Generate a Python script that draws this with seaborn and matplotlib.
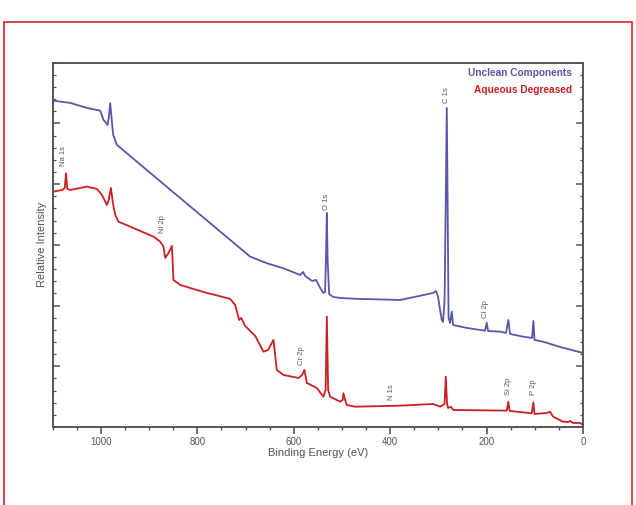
import matplotlib
matplotlib.use("Agg")
import matplotlib.pyplot as plt
from matplotlib.patches import Rectangle
from matplotlib.ticker import MultipleLocator
import seaborn as sns
import pandas as pd

# ---- data (binding energy eV, relative intensity) ----
unclean_energy = [1100, 1063.7, 1029, 1001.5, 994.6, 986.3, 983.8, 980.7, 977.6, 974.5,
                  966.8, 925.4, 856.3, 752.6, 690.5, 655.8, 621.4, 586.8, 580.6, 576.4,
                  561.9, 553.6, 545.3, 538.5, 535, 532.9, 531.4, 529.8, 526.6, 518.4,
                  503.8, 462.4, 379.4, 311, 304.8, 300.6, 296.5, 293, 290.3, 287.2,
                  284.7, 282.6, 280.9, 278.9, 275.8, 272.2, 269.5, 241.1, 203.2, 199.7,
                  197, 172.1, 159.7, 154.9, 151.4, 124.4, 105.7, 103, 100.6, 82.9,
                  47.7, 0]
unclean_intensity = [5.376, 5.338, 5.255, 5.211, 5.058, 4.975, 5.09, 5.333, 5.058, 4.81,
                     4.646, 4.37, 3.909, 3.219, 2.806, 2.697, 2.614, 2.504, 2.553, 2.488,
                     2.405, 2.422, 2.29, 2.207, 2.224, 2.916, 3.525, 2.751, 2.19, 2.142,
                     2.125, 2.109, 2.092, 2.207, 2.24, 2.142, 1.927, 1.763, 1.73, 2.092,
                     3.74, 5.255, 3.74, 1.796, 1.713, 1.9, 1.68, 1.631, 1.586, 1.718,
                     1.581, 1.57, 1.549, 1.763, 1.532, 1.488, 1.466, 1.746, 1.433, 1.405,
                     1.318, 1.219]

degreased_energy = [1100, 1080.2, 1075, 1072.5, 1069.8, 1063.7, 1029, 1008.3, 997.9, 987.6,
                    983.8, 979.3, 974.5, 970.3, 963.5, 939.3, 890.9, 877, 870.2, 866.7,
                    859.8, 852.8, 849.5, 835.6, 780.2, 763, 732, 721.5, 713.3, 709.1,
                    700.8, 680, 662.9, 653.1, 642.1, 635.1, 621.4, 590.3, 582.6, 577.9,
                    572.9, 552.2, 538.5, 533.9, 531.4, 528.7, 524.6, 503.8, 498.6, 497,
                    493.5, 489.9, 472.7, 379.4, 311, 296.5, 287.2, 284.7, 282, 279.9,
                    274.3, 269.5, 158.2, 154.9, 152.4, 106.4, 103, 100.6, 74.6, 68.4,
                    62.2, 41.5, 31.1, 27, 20.7, 6.2, 0]
degreased_intensity = [3.876, 3.904, 3.937, 4.179, 3.921, 3.904, 3.959, 3.921, 3.822, 3.657,
                       3.74, 3.937, 3.657, 3.493, 3.382, 3.3, 3.135, 3.053, 2.97, 2.784,
                       2.866, 2.982, 2.422, 2.339, 2.207, 2.175, 2.109, 2.01, 1.763, 1.796,
                       1.664, 1.5, 1.24, 1.269, 1.433, 0.939, 0.857, 0.807, 0.857, 0.939,
                       0.725, 0.642, 0.499, 0.61, 1.817, 0.61, 0.499, 0.417, 0.445, 0.555,
                       0.445, 0.362, 0.334, 0.351, 0.379, 0.334, 0.379, 0.829, 0.379, 0.313,
                       0.334, 0.28, 0.269, 0.417, 0.264, 0.226, 0.407, 0.214, 0.231, 0.252,
                       0.17, 0.087, 0.082, 0.099, 0.066, 0.066, 0.033]

series_names = ["Unclean Components", "Aqueous Degreased"]
series_colors = ["#5858aa", "#cc1f26"]

peak_labels = ["Na 1s", "Ni 2p", "O 1s", "C 1s", "Cl 2p", "Cr 2p", "N 1s", "Si 2p", "P 2p"]
peak_energy = [1078, 873, 533, 284, 203, 583, 397, 155, 103]
peak_label_base = [4.30, 3.20, 3.57, 5.34, 1.80, 1.02, 0.45, 0.53, 0.53]

x_ticks = [1000, 800, 600, 400, 200, 0]

# ---- build table ----
df = pd.concat([
    pd.DataFrame({"energy": unclean_energy, "intensity": unclean_intensity, "series": series_names[0]}),
    pd.DataFrame({"energy": degreased_energy, "intensity": degreased_intensity, "series": series_names[1]}),
], ignore_index=True)

sns.set_style("white")
plt.rcParams["font.family"] = ["Liberation Sans", "DejaVu Sans"]

fig = plt.figure(figsize=(6.36, 5.05), dpi=100)
ax = fig.add_axes([0.0829, 0.1545, 0.9167 - 0.0829, 0.8758 - 0.1545])

sns.lineplot(data=df, x="energy", y="intensity", hue="series", hue_order=series_names,
             palette=series_colors, estimator=None, sort=False, linewidth=1.3,
             legend=False, ax=ax)

ax.set_xlim(1100, 0)
ax.set_ylim(0, 6)
ax.xaxis.set_major_locator(MultipleLocator(200))
ax.xaxis.set_minor_locator(MultipleLocator(50))
ax.set_xticks(x_ticks)
ax.set_xticklabels([str(t) for t in x_ticks])
ax.yaxis.set_major_locator(MultipleLocator(1))
ax.yaxis.set_minor_locator(MultipleLocator(0.2))
ax.set_yticklabels([])

for s in ax.spines.values():
    s.set_color("#555555")
    s.set_linewidth(1.4)

ax.tick_params(axis="x", which="major", direction="out", length=5, width=1.2,
               colors="#555555", labelsize=7, pad=2, top=False, bottom=True)
ax.tick_params(axis="x", which="minor", direction="out", length=2.5, width=1.0,
               colors="#555555", top=False, bottom=True)
ax.tick_params(axis="y", which="major", direction="in", length=5, width=1.1,
               colors="#555555", left=True, right=True)
ax.tick_params(axis="y", which="minor", direction="in", length=2.5, width=0.9,
               colors="#555555", left=True, right=True)

ax.set_xlabel("Binding Energy (eV)", fontsize=8, color="#555555", labelpad=1)
ax.set_ylabel("Relative Intensity", fontsize=8, color="#555555", labelpad=0.5)

for lab, e, b in zip(peak_labels, peak_energy, peak_label_base):
    ax.text(e, b, lab, rotation=90, ha="center", va="bottom", fontsize=5.5,
            color="#555555")

ax.text(0.979, 0.972, series_names[0], transform=ax.transAxes, ha="right", va="center",
        fontsize=7.3, color=series_colors[0], fontweight="bold")
ax.text(0.979, 0.925, series_names[1], transform=ax.transAxes, ha="right", va="center",
        fontsize=7.3, color=series_colors[1], fontweight="bold")

# red frame
fig.patches.append(Rectangle((4 / 636, -0.1), 632 / 636 - 4 / 636, 1.1 - 22 / 505,
                             transform=fig.transFigure, fill=False, edgecolor="#e0202a",
                             linewidth=1.2))

fig.savefig("out.png", dpi=100)
